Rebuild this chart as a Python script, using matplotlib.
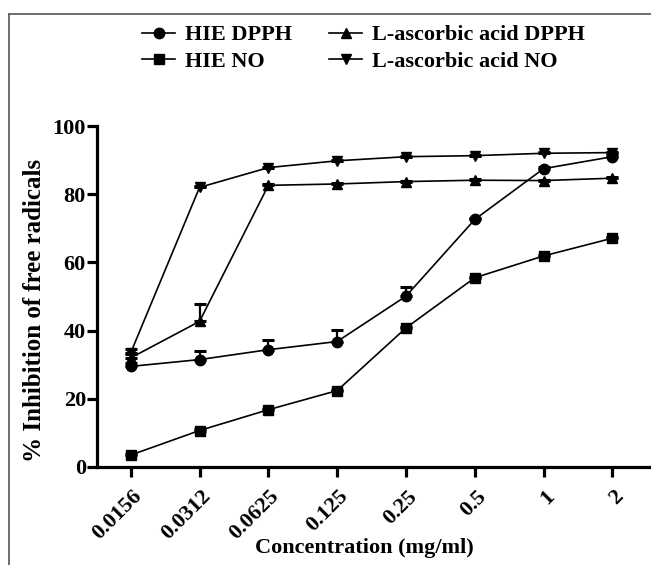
import numpy as np
import matplotlib
matplotlib.use('Agg')
from matplotlib import pyplot as plt
from matplotlib.lines import Line2D
from matplotlib.transforms import ScaledTranslation

# 浓度 (mg/ml)
concentrations = ['0.0156', '0.0312', '0.0625', '0.125', '0.25', '0.5', '1', '2']

# 各组抑制率 (%)
hie_dpph = [29.5, 31.5, 34.4, 36.8, 50.1, 72.6, 87.5, 91.0]
hie_dpph_err = [1.0, 2.6, 2.8, 3.3, 2.6, 0.5, 0.5, 0.5]

hie_no = [3.5, 10.7, 16.8, 22.4, 40.8, 55.5, 61.9, 67.1]
hie_no_err = [0.3, 0.3, 0.3, 0.3, 0.3, 0.3, 0.3, 0.3]

asc_dpph = [32.0, 42.7, 82.6, 83.0, 83.7, 84.1, 84.0, 84.7]
asc_dpph_err = [1.0, 5.0, 0.3, 0.3, 0.3, 0.3, 0.3, 0.3]

asc_no = [33.5, 82.0, 87.8, 89.8, 91.0, 91.3, 92.0, 92.2]
asc_no_err = [1.2, 0.3, 0.3, 0.3, 0.3, 0.3, 0.3, 0.3]

plt.rcParams['font.family'] = ['Liberation Serif', 'DejaVu Serif']
plt.rcParams['font.weight'] = 'bold'

fig = plt.figure(figsize = (6.51, 5.65), dpi = 100)
ax = fig.add_axes([97 / 651, 1 - 467 / 565, 1 - 97 / 651, (467 - 126) / 565])

x = np.arange(len(concentrations))
series = [
    (hie_dpph, hie_dpph_err, 'o', 'HIE DPPH'),
    (hie_no, hie_no_err, 's', 'HIE NO'),
    (asc_dpph, asc_dpph_err, '^', 'L-ascorbic acid DPPH'),
    (asc_no, asc_no_err, 'v', 'L-ascorbic acid NO'),
]
handles = []
for values, err, marker, label in series:
    lower = np.zeros(len(err))
    ax.errorbar(x, values, yerr = [lower, err], fmt = 'none', ecolor = 'black',
                elinewidth = 1.6, capsize = 4, capthick = 2.2, zorder = 2)
    line, = ax.plot(x, values, color = 'black', linewidth = 1.2, marker = marker,
                    markersize = 7.5, markerfacecolor = 'black', markeredgecolor = 'black',
                    label = label, zorder = 3)
    handles.append(line)

ax.set_xlim(-0.49, 7.56)
ax.set_ylim(0, 100)
ax.set_yticks([0, 20, 40, 60, 80, 100])
ax.set_xticks(x)
ax.set_xticklabels(concentrations)

for side in ['top', 'right']:
    ax.spines[side].set_visible(False)
for side in ['left', 'bottom']:
    ax.spines[side].set_linewidth(2.3)

ax.tick_params(axis = 'y', length = 7, width = 2.3, labelsize = 16, pad = 1)
ax.tick_params(axis = 'x', length = 7, width = 2.3, labelsize = 16, pad = 12)

# x轴刻度标签旋转 45°
offset = ScaledTranslation(8 / 100, 0, fig.dpi_scale_trans)
for lbl in ax.get_xticklabels():
    lbl.set_rotation(45)
    lbl.set_rotation_mode('anchor')
    lbl.set_ha('right')
    lbl.set_va('center')
    lbl.set_transform(lbl.get_transform() + offset)
for lbl in ax.get_xticklabels() + ax.get_yticklabels():
    lbl.set_fontweight('bold')

ax.set_xlabel('Concentration (mg/ml)', fontsize = 16, fontweight = 'bold')
ax.set_ylabel('% Inhibition of free radicals', fontsize = 18, fontweight = 'bold')
ax.xaxis.set_label_coords(0.482, -0.208)
ax.yaxis.set_label_coords(-0.092, 0.46)

fig.legend(handles = handles, ncol = 2, frameon = False, loc = 'upper left',
           bbox_to_anchor = (133 / 651, 1 - 16 / 565),
           prop = {'weight': 'bold', 'size': 16}, handlelength = 1.5, handletextpad = 0.45,
           columnspacing = 1.65, labelspacing = 0.25, borderaxespad = 0)

# 外框 (左、上)
fig.add_artist(Line2D([9 / 651, 9 / 651], [0, 1 - 14 / 565], transform = fig.transFigure,
                      color = '#555555', linewidth = 1.2))
fig.add_artist(Line2D([9 / 651, 1], [1 - 14 / 565, 1 - 14 / 565], transform = fig.transFigure,
                      color = '#555555', linewidth = 1.2))

fig.savefig('out.png', dpi = 100)
